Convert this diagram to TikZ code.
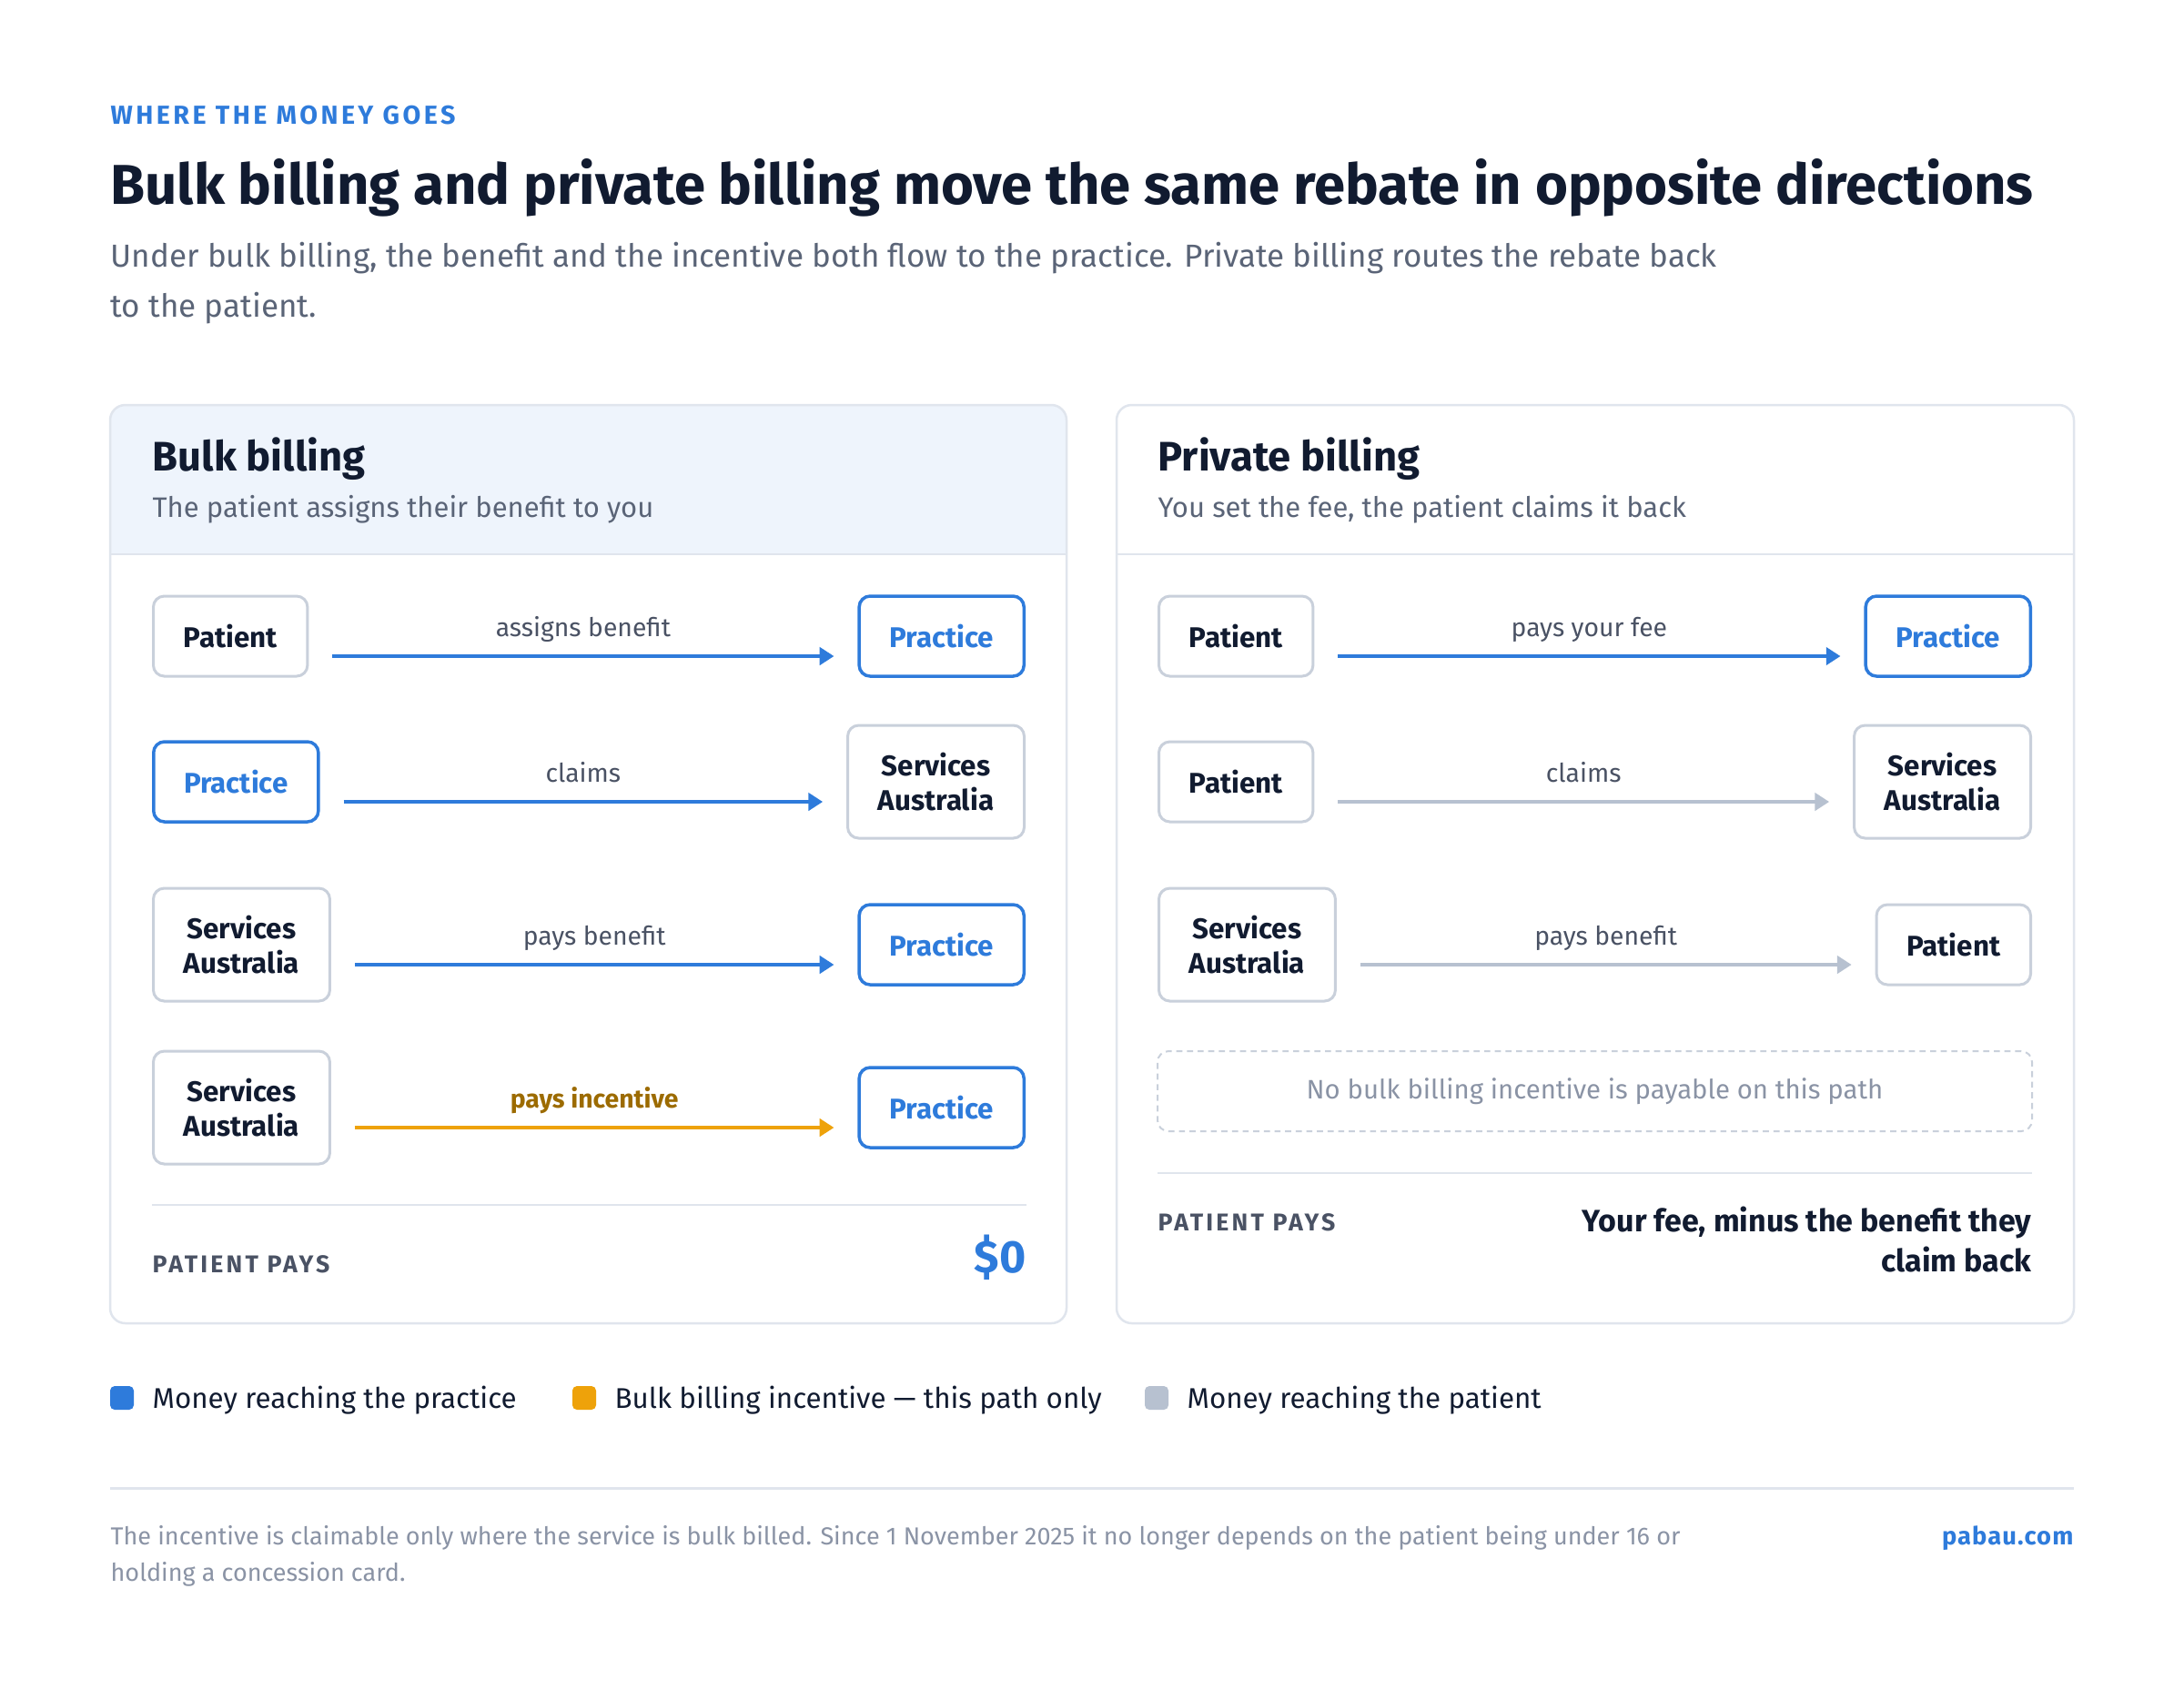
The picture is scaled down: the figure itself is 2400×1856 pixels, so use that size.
\documentclass[tikz,border=0pt]{standalone}
\usepackage{fontspec}
\setmainfont{Fira Sans}
\newfontfamily\trackfont[LetterSpace=12]{Fira Sans}
\newfontfamily\brandfont[LetterSpace=4]{Fira Sans}
\usetikzlibrary{arrows.meta,positioning}
\definecolor{acc}{HTML}{2E7BDB}
\definecolor{amber}{HTML}{EEA20A}
\definecolor{gold}{HTML}{9C6B00}
\definecolor{mute}{HTML}{B7C1D0}
\definecolor{boxgray}{HTML}{C9D0DB}
\definecolor{ink}{HTML}{111B30}
\definecolor{slate}{HTML}{5A6477}
\definecolor{lblgray}{HTML}{4A5264}
\definecolor{footgray}{HTML}{8A93A5}
\definecolor{hdr}{HTML}{EEF4FC}
\definecolor{rule}{HTML}{E0E5ED}

\begin{document}
\begin{tikzpicture}[x=0.3pt,y=-0.3pt,
    txt/.style={inner sep=0pt, anchor=base west},
    party/.style={draw=boxgray, line width=0.9pt, rounded corners=3.6pt, fill=white,
        minimum height=26.4pt, inner xsep=10pt, align=center, text=ink,
        font=\bfseries\fontsize{9.4}{11.3}\selectfont},
    payee/.style={draw=acc, line width=1.05pt, text=acc},
    tall/.style={minimum height=37.2pt},
    flow/.style={line width=1pt, draw=acc, -{Triangle[length=4.7pt,width=5.8pt]},
        shorten <=7.8pt, shorten >=7.8pt},
    quiet/.style={draw=mute},
    extra/.style={draw=amber},
    flowlbl/.style={midway, anchor=base, yshift=6.6pt, inner sep=0pt, text=lblgray,
        font=\fontsize{8.5}{10}\selectfont},
    keybox/.style={fill=#1, rounded corners=1.5pt, minimum size=7.8pt, inner sep=0pt}]
  \useasboundingbox[fill=white] (0,0) rectangle (2400,1856);

  \node[txt, text=acc, font=\trackfont\bfseries\fontsize{8.6}{10}\selectfont] (kicker) at (121,136) {WHERE THE MONEY GOES};
  \node[txt, text=ink, font=\bfseries\fontsize{18.5}{22}\selectfont] (title) at (121,224)
    {Bulk billing and private billing move the same rebate in opposite directions};
  \node[txt, text=slate, align=left, font=\fontsize{10.5}{16.5}\selectfont] (intro) at (121,348)
    {Under bulk billing, the benefit and the incentive both flow to the practice. Private billing routes the rebate back\\to the patient.};

  \begin{scope}
    \clip[rounded corners=5pt] (121,445) rectangle (1172,1454);
    \fill[hdr] (121,445) rectangle (1172,609);
  \end{scope}
  \draw[rule, line width=0.75pt, rounded corners=5pt] (121,445) rectangle (1172,1454);
  \draw[rule, line width=0.75pt] (121,609) -- (1172,609);
  \draw[rule, line width=0.75pt, rounded corners=5pt] (1227,445) rectangle (2279,1454);
  \draw[rule, line width=0.75pt] (1227,609) -- (2279,609);

  \node[txt, text=ink, font=\bfseries\fontsize{13.6}{16}\selectfont] (bulkHead) at (167,517) {Bulk billing};
  \node[txt, text=slate, font=\fontsize{9.3}{11}\selectfont] (bulkSub) at (167,568) {The patient assigns their benefit to you};
  \node[txt, text=ink, font=\bfseries\fontsize{13.6}{16}\selectfont] (privHead) at (1272,517) {Private billing};
  \node[txt, text=slate, font=\fontsize{9.3}{11}\selectfont] (privSub) at (1272,568) {You set the fee, the patient claims it back};

  \node[party, anchor=west] (bA1) at (167,699) {Patient};
  \node[party, payee, anchor=east] (bB1) at (1127,699) {Practice};
  \node[party, payee, anchor=west] (bA2) at (167,859) {Practice};
  \node[party, tall, anchor=east] (bB2) at (1127,859) {Services\\Australia};
  \node[party, tall, anchor=west] (bA3) at (167,1038) {Services\\Australia};
  \node[party, payee, anchor=east] (bB3) at (1127,1038) {Practice};
  \node[party, tall, anchor=west] (bA4) at (167,1217) {Services\\Australia};
  \node[party, payee, anchor=east] (bB4) at (1127,1217) {Practice};

  \draw[flow] ([yshift=-6.6pt]bA1.east) -- node[flowlbl] {assigns benefit} ([yshift=-6.6pt]bB1.west);
  \draw[flow] ([yshift=-6.6pt]bA2.east) -- node[flowlbl] {claims} ([yshift=-6.6pt]bB2.west);
  \draw[flow] ([yshift=-6.6pt]bA3.east) -- node[flowlbl] {pays benefit} ([yshift=-6.6pt]bB3.west);
  \draw[flow, extra] ([yshift=-6.6pt]bA4.east) -- node[flowlbl, text=gold, font=\bfseries\fontsize{8.5}{10}\selectfont] {pays incentive} ([yshift=-6.6pt]bB4.west);

  \draw[rule, line width=0.75pt] (167,1324) -- (1128,1324);
  \node[txt, text=lblgray, font=\trackfont\bfseries\fontsize{8}{10}\selectfont] (bulkPays) at (167,1398) {PATIENT PAYS};
  \node[txt, anchor=base east, text=acc, font=\bfseries\fontsize{15}{18}\selectfont] (bulkSum) at (1128,1398) {\$0};

  \node[party, anchor=west] (pA1) at (1272,699) {Patient};
  \node[party, payee, anchor=east] (pB1) at (2233,699) {Practice};
  \node[party, anchor=west] (pA2) at (1272,859) {Patient};
  \node[party, tall, anchor=east] (pB2) at (2233,859) {Services\\Australia};
  \node[party, tall, anchor=west] (pA3) at (1272,1038) {Services\\Australia};
  \node[party, anchor=east] (pB3) at (2233,1038) {Patient};

  \draw[flow] ([yshift=-6.6pt]pA1.east) -- node[flowlbl] {pays your fee} ([yshift=-6.6pt]pB1.west);
  \draw[flow, quiet] ([yshift=-6.6pt]pA2.east) -- node[flowlbl] {claims} ([yshift=-6.6pt]pB2.west);
  \draw[flow, quiet] ([yshift=-6.6pt]pA3.east) -- node[flowlbl] {pays benefit} ([yshift=-6.6pt]pB3.west);

  \node[draw=boxgray, dashed, dash pattern=on 2pt off 1.5pt, line width=0.6pt, rounded corners=3.6pt,
    minimum width=288.3pt, minimum height=26.4pt, text=footgray, font=\fontsize{8.8}{10}\selectfont]
    (noIncentive) at (1752.5,1199) {No bulk billing incentive is payable on this path};

  \draw[rule, line width=0.75pt] (1272,1289) -- (2233,1289);
  \node[txt, text=lblgray, font=\trackfont\bfseries\fontsize{8}{10}\selectfont] (privPays) at (1272,1352) {PATIENT PAYS};
  \node[txt, anchor=base east, align=right, text=ink, font=\bfseries\fontsize{10.2}{13.2}\selectfont] (privSum) at (2233,1397)
    {Your fee, minus the benefit they\\claim back};

  \foreach \x/\c/\t in {121/acc/Money reaching the practice,629/amber/Bulk billing incentive — this path only,1258/mute/Money reaching the patient}{
    \node[keybox=\c] (key\x) at (\x+13,1536) {};
    \node[txt, text=ink, font=\fontsize{9.4}{11}\selectfont] at (\x+46,1547) {\t};
  }

  \draw[rule, line width=0.9pt] (121,1635) -- (2279,1635);
  \node[txt, text=footgray, align=left, font=\fontsize{8.1}{12}\selectfont] (note) at (121,1737)
    {The incentive is claimable only where the service is bulk billed. Since 1 November 2025 it no longer depends on the patient being under 16 or\\holding a concession card.};
  \node[txt, anchor=base east, text=acc, font=\brandfont\bfseries\fontsize{8.2}{10}\selectfont] (brand) at (2279,1697) {pabau.com};
\end{tikzpicture}
\end{document}
